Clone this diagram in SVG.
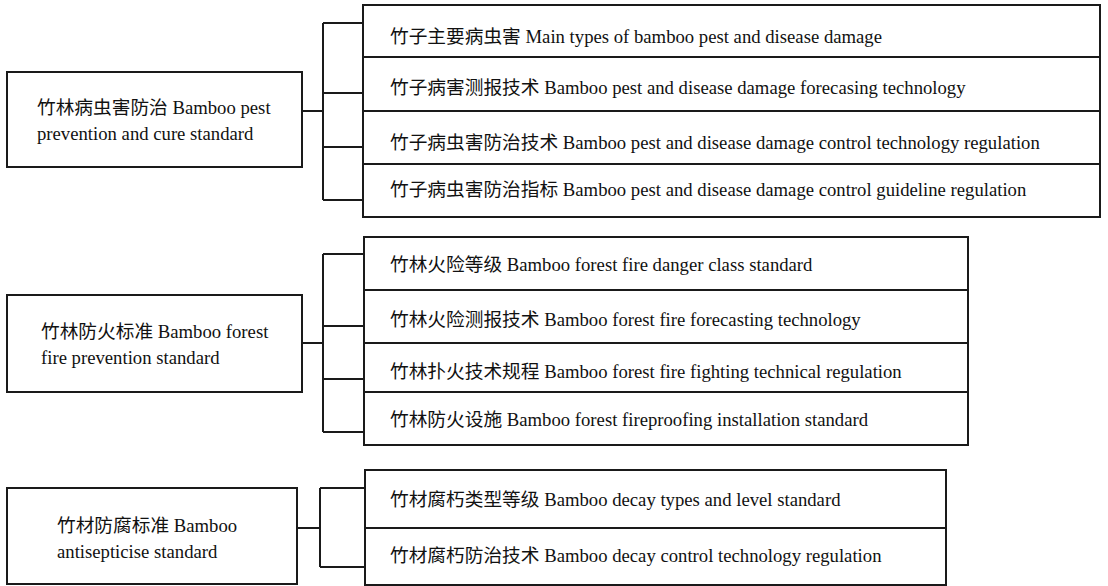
<svg xmlns="http://www.w3.org/2000/svg" width="1108" height="586" viewBox="0 0 1108 586">
<style>
rect.box{fill:#fff;stroke:#1a1a1a;stroke-width:2}
.con path{fill:none;stroke:#1a1a1a;stroke-width:2}
text{font-family:"Liberation Serif","Noto Sans CJK SC",serif;font-size:18.7px;fill:#111}
</style>
<rect width="1108" height="586" fill="#fff"/>
<g class="con" id="connectors">
<path d="M302,111H323M323,23V200M323,23H363M323,93H363M323,147H363M323,200H363"/>
<path d="M302,343H323M323,254V432M323,254H364M323,326H364M323,379H364M323,432H364"/>
<path d="M297,528H320M320,488V567M320,488H365M320,567H365"/>
</g>
<g id="pest">
<rect class="box" x="7" y="72" width="295" height="95"/>
<text x="37" y="114">竹林病虫害防治 Bamboo pest</text>
<text x="37" y="140">prevention and cure standard</text>
</g>
<g id="pest-1"><rect class="box" x="363" y="5" width="737" height="52"/><text x="390" y="43">竹子主要病虫害 Main types of bamboo pest and disease damage</text></g>
<g id="pest-2"><rect class="box" x="363" y="57" width="737" height="54"/><text x="390" y="94">竹子病害测报技术 Bamboo pest and disease damage forecasing technology</text></g>
<g id="pest-3"><rect class="box" x="363" y="111" width="737" height="53"/><text x="390" y="149">竹子病虫害防治技术 Bamboo pest and disease damage control technology regulation</text></g>
<g id="pest-4"><rect class="box" x="363" y="164" width="737" height="53"/><text x="390" y="196">竹子病虫害防治指标 Bamboo pest and disease damage control guideline regulation</text></g>
<g id="fire">
<rect class="box" x="7" y="295" width="295" height="97"/>
<text x="41" y="338">竹林防火标准 Bamboo forest</text>
<text x="41" y="364">fire prevention standard</text>
</g>
<g id="fire-1"><rect class="box" x="364" y="237" width="604" height="53"/><text x="390" y="271">竹林火险等级 Bamboo forest fire danger class standard</text></g>
<g id="fire-2"><rect class="box" x="364" y="290" width="604" height="53"/><text x="390" y="326">竹林火险测报技术 Bamboo forest fire forecasting technology</text></g>
<g id="fire-3"><rect class="box" x="364" y="343" width="604" height="49"/><text x="390" y="378">竹林扑火技术规程 Bamboo forest fire fighting technical regulation</text></g>
<g id="fire-4"><rect class="box" x="364" y="392" width="604" height="53"/><text x="390" y="426">竹林防火设施 Bamboo forest fireproofing installation standard</text></g>
<g id="decay">
<rect class="box" x="7" y="488" width="290" height="96"/>
<text x="57" y="532">竹材防腐标准 Bamboo</text>
<text x="57" y="558">antisepticise standard</text>
</g>
<g id="decay-1"><rect class="box" x="365" y="470" width="581" height="58"/><text x="390" y="506">竹材腐朽类型等级 Bamboo decay types and level standard</text></g>
<g id="decay-2"><rect class="box" x="365" y="528" width="581" height="57"/><text x="390" y="562">竹材腐朽防治技术 Bamboo decay control technology regulation</text></g>
</svg>
